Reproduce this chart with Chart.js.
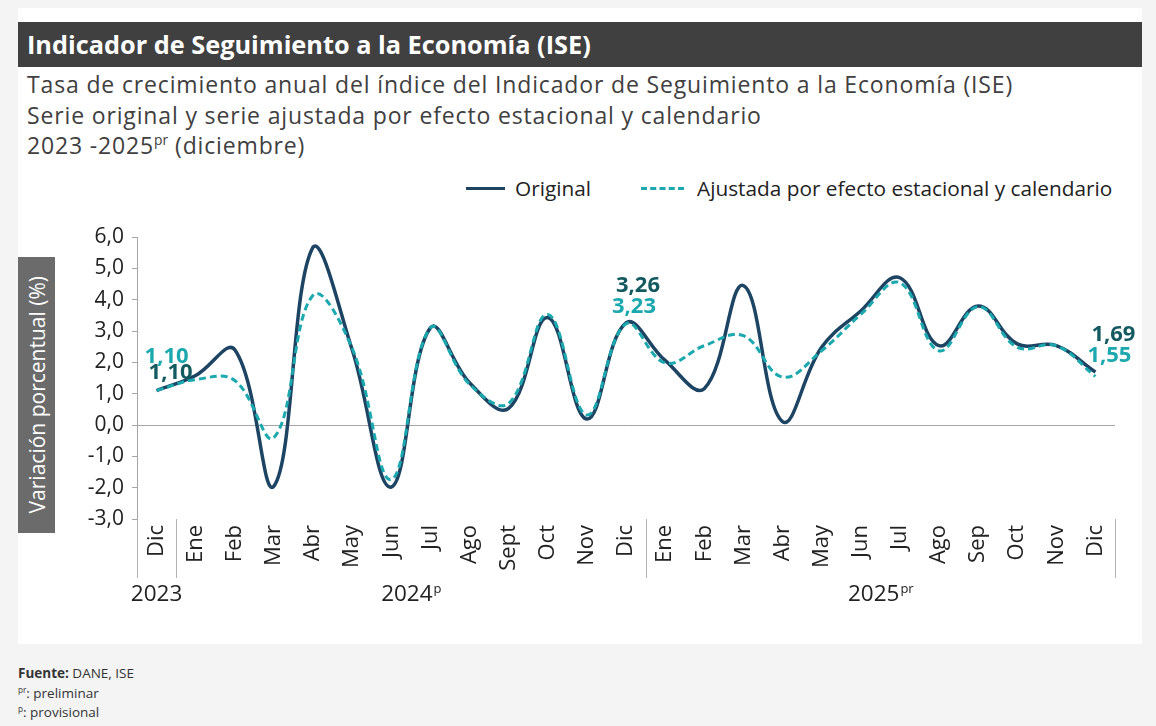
<!DOCTYPE html>
<html lang="es">
<head>
<meta charset="utf-8">
<script src="https://cdn.jsdelivr.net/npm/chart.js@4"></script>
<style>
  html,body{margin:0;padding:0;}
  body{width:1156px;height:726px;background:#f4f4f4;position:relative;overflow:hidden;font-family:'Open Sans',sans-serif;}
  #panel{position:absolute;left:18px;top:8px;width:1124px;height:636px;background:#fff;}
  #titlebar{position:absolute;left:18px;top:22px;width:1124px;height:45px;background:#404040;color:#fff;font-weight:700;font-size:25.3px;line-height:45px;box-sizing:border-box;padding-left:9px;}
  #subtitle{position:absolute;left:27px;top:69px;font-size:23px;letter-spacing:0.85px;line-height:30.5px;color:#404040;}
  #subtitle sup, #footer sup{font-size:60%;line-height:0;vertical-align:super;letter-spacing:0;}
  #ytitle{position:absolute;left:18px;top:257px;width:37px;height:276px;background:#6b6b6b;color:#fff;font-size:21px;display:flex;align-items:center;justify-content:center;}
  #ytitle span{writing-mode:vertical-rl;transform:rotate(180deg);white-space:nowrap;}
  #legend{position:absolute;left:466px;top:176px;font-size:20.8px;color:#222;height:24px;line-height:24px;white-space:nowrap;}
  .li{position:absolute;top:0;}
  .sw{position:absolute;top:11px;height:0;}
  #footer{position:absolute;left:18px;top:664px;font-size:13.5px;line-height:19.5px;color:#333;}
  canvas{position:absolute;left:0;top:0;}
</style>
</head>
<body>
<div id="panel"></div>
<div id="titlebar">Indicador de Seguimiento a la Economía (ISE)</div>
<div id="subtitle">Tasa de crecimiento anual del índice del Indicador de Seguimiento a la Economía (ISE)<br>Serie original y serie ajustada por efecto estacional y calendario<br>2023 -2025<sup>pr</sup> (diciembre)</div>
<div id="ytitle"><span>Variación porcentual (%)</span></div>
<div id="legend">
  <div class="sw" style="left:0;width:39px;border-top:3.5px solid #1d4563;"></div>
  <div class="li" style="left:49px;">Original</div>
  <div class="sw" style="left:175px;width:43px;border-top:3px dashed #1ba8ae;"></div>
  <div class="li" style="left:231px;">Ajustada por efecto estacional y calendario</div>
</div>
<div id="footer"><b>Fuente:</b> DANE, ISE<br><sup>pr</sup>: preliminar<br><sup>p</sup>: provisional</div>
<canvas id="c" width="1156" height="726"></canvas>
<script>
// ---- data ----
const months = ['Dic','Ene','Feb','Mar','Abr','May','Jun','Jul','Ago','Sept','Oct','Nov','Dic',
                'Ene','Feb','Mar','Abr','May','Jun','Jul','Ago','Sep','Oct','Nov','Dic'];
const original = [1.10, 1.58, 2.40, -1.95, 5.68, 2.40, -1.98, 3.10, 1.35, 0.53, 3.43, 0.19, 3.26,
                  2.06, 1.16, 4.45, 0.11, 2.48, 3.64, 4.70, 2.53, 3.80, 2.59, 2.53, 1.69];
const ajustada = [1.10, 1.45, 1.42, -0.40, 4.14, 2.45, -1.74, 3.10, 1.30, 0.69, 3.53, 0.32, 3.23,
                  1.98, 2.53, 2.85, 1.53, 2.37, 3.53, 4.54, 2.37, 3.78, 2.48, 2.53, 1.55];
const yearGroups = [
  {label:'2023', sup:'',   from:0,  to:0},
  {label:'2024', sup:'p',  from:1,  to:12},
  {label:'2025', sup:'pr', from:13, to:24}
];
const labeledPoints = [0, 12, 24];

const fmt = (v, d) => v.toFixed(d).replace('.', ',');

const decoPlugin = {
  id: 'deco',
  afterDraw(chart) {
    const {ctx, chartArea} = chart;
    const x = chart.scales.x;
    const half = (x.getPixelForValue(1) - x.getPixelForValue(0)) / 2;
    ctx.save();
    // group separators
    ctx.strokeStyle = '#b3b3b3';
    ctx.lineWidth = 1;
    const edges = yearGroups.map(g => x.getPixelForValue(g.from) - half);
    edges.push(x.getPixelForValue(yearGroups[yearGroups.length-1].to) + half);
    edges.forEach(px => {
      const p = Math.round(px) + 0.5;
      ctx.beginPath();
      ctx.moveTo(p, chartArea.bottom);
      ctx.lineTo(p, chartArea.bottom + 59);
      ctx.stroke();
    });
    // year labels
    ctx.fillStyle = '#222';
    ctx.textBaseline = 'middle';
    yearGroups.forEach(g => {
      const cx = (x.getPixelForValue(g.from) + x.getPixelForValue(g.to)) / 2;
      ctx.font = '22.5px "Open Sans"';
      const w1 = ctx.measureText(g.label).width;
      ctx.font = '13px "Open Sans"';
      const w2 = g.sup ? ctx.measureText(g.sup).width : 0;
      const start = cx - (w1 + w2) / 2;
      ctx.font = '22.5px "Open Sans"';
      ctx.textAlign = 'left';
      ctx.fillText(g.label, start, chartArea.bottom + 76);
      if (g.sup) {
        ctx.font = '13px "Open Sans"';
        ctx.fillText(g.sup, start + w1 + 1, chartArea.bottom + 70);
      }
    });
    // data labels
    const m0 = chart.getDatasetMeta(0); // ajustada
    const m1 = chart.getDatasetMeta(1); // original
    ctx.font = 'bold 22px "Open Sans"';
    ctx.textAlign = 'center';
    labeledPoints.forEach(i => {
      const po = m1.data[i], pa = m0.data[i];
      const top = Math.min(po.y, pa.y);
      let dx = 11;
      if (i === 0) dx = 13;
      if (i === 24) dx = 17;
      ctx.fillStyle = '#135a60';
      ctx.fillText(fmt(original[i], 2), po.x + dx + 1, top - 37 + (i===0 ? 19 : 0));
      ctx.fillStyle = '#1ba8ae';
      ctx.fillText(fmt(ajustada[i], 2), po.x + dx - 3, top - 16 + (i===0 ? -18 : 0));
    });
    ctx.restore();
  }
};

new Chart(document.getElementById('c'), {
  type: 'line',
  data: {
    labels: months,
    datasets: [
      {label:'Ajustada por efecto estacional y calendario', data: ajustada, borderColor:'#1ba8ae', borderWidth:3, borderDash:[7,4], pointRadius:0, tension:0.4, fill:false, order:0},
      {label:'Original', data: original, borderColor:'#1d4563', borderWidth:3.5, pointRadius:0, tension:0.4, fill:false, order:1}
    ]
  },
  options: {
    responsive:false,
    animation:false,
    devicePixelRatio:1,
    layout:{padding:{left:77, top:237, right:41, bottom:147}},
    plugins:{legend:{display:false}, tooltip:{enabled:false}},
    scales:{
      x:{
        offset:true,
        grid:{display:false, drawTicks:false},
        border:{display:false},
        ticks:{minRotation:90, maxRotation:90, autoSkip:false, padding:6, color:'#222', font:{family:'Open Sans', size:22}},
        afterFit(s){ s.height = 60; }
      },
      y:{
        min:-3, max:6,
        border:{display:true, color:'#a6a6a6', width:1},
        grid:{
          color: c => (c.tick && c.tick.value === 0) ? '#a6a6a6' : 'rgba(0,0,0,0)',
          tickColor:'#a6a6a6', tickLength:5, drawTicks:true, lineWidth:1
        },
        ticks:{stepSize:1, padding:8, color:'#222', font:{family:'Open Sans', size:21}, callback: v => fmt(v, 1)},
        afterFit(s){ s.width = 60; }
      }
    }
  },
  plugins:[decoPlugin]
});
</script>
</body>
</html>
